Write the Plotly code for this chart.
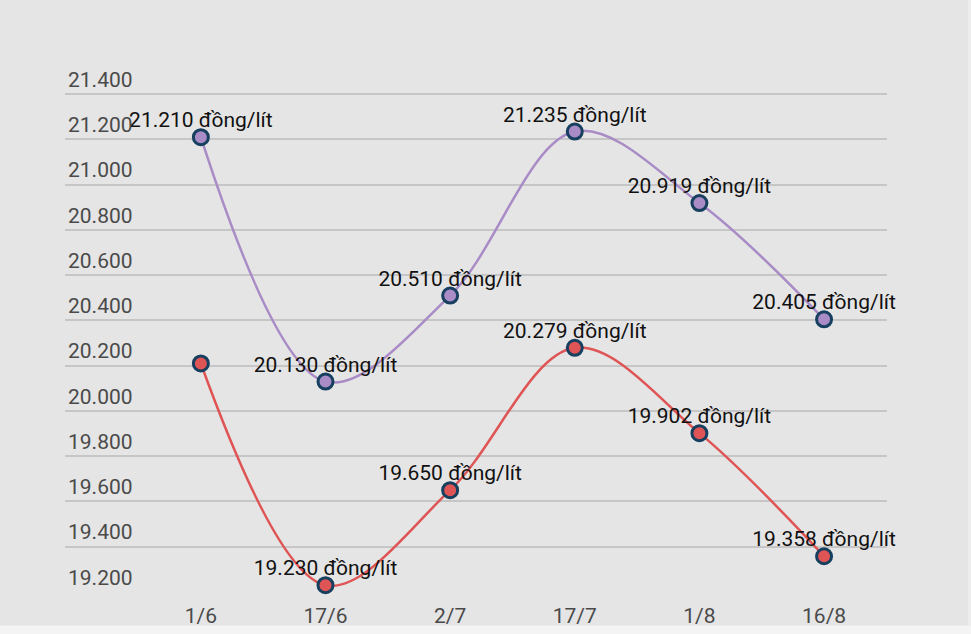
import plotly.graph_objects as go

categories = ["1/6", "17/6", "2/7", "17/7", "1/8", "16/8"]
ron95 = [21210, 20130, 20510, 21235, 20919, 20405]
e5 = [20210, 19230, 19650, 20279, 19902, 19358]
e5_labels = ["", "19.230 đồng/lít", "19.650 đồng/lít", "20.279 đồng/lít", "19.902 đồng/lít", "19.358 đồng/lít"]
ron95_labels = ["21.210 đồng/lít", "20.130 đồng/lít", "20.510 đồng/lít", "21.235 đồng/lít", "20.919 đồng/lít", "20.405 đồng/lít"]
y_ticks = [19200, 19400, 19600, 19800, 20000, 20200, 20400, 20600, 20800, 21000, 21200, 21400]
y_tick_text = ["19.200", "19.400", "19.600", "19.800", "20.000", "20.200", "20.400", "20.600", "20.800", "21.000", "21.200", "21.400"]

BG = "#e5e5e5"
FONT = "Roboto"

xs = list(range(len(categories)))
fig = go.Figure()
for vals, color in [(ron95, "#a98bc6"), (e5, "#df5454")]:
    fig.add_trace(go.Scatter(
        x=xs, y=vals, mode="lines+markers",
        line=dict(color=color, width=2.5, shape="spline", smoothing=1),
        marker=dict(size=15, color=color, line=dict(color="#173f5f", width=3)),
        cliponaxis=False, showlegend=False, hoverinfo="skip",
    ))
for vals, labels in [(ron95, ron95_labels), (e5, e5_labels)]:
    fig.add_trace(go.Scatter(
        x=xs, y=vals, mode="markers+text", text=labels, textposition="top center",
        marker=dict(size=6, opacity=0),
        textfont=dict(family=FONT, size=21, color="#111111"),
        cliponaxis=False, showlegend=False, hoverinfo="skip",
    ))

fig.update_layout(
    width=971, height=634,
    paper_bgcolor=BG, plot_bgcolor=BG,
    margin=dict(l=65, r=84, t=58, b=42),
    font=dict(family=FONT),
    hovermode=False,
    xaxis=dict(
        tickmode="array", tickvals=xs, ticktext=categories,
        range=[-1.09, 5.505], showgrid=False, zeroline=False, showline=False,
        ticks="", tickfont=dict(family=FONT, size=21, color="#4a4a4a"),
        ticklabelstandoff=9, automargin=False,
    ),
    yaxis=dict(
        tickmode="array", tickvals=y_ticks, ticktext=y_tick_text,
        range=[19200, 21560], showgrid=True, gridcolor="#c6c6c6", gridwidth=1.5,
        zeroline=False, showline=False, ticks="",
        ticklabelposition="inside top", automargin=False,
        tickfont=dict(family=FONT, size=21, color="#4a4a4a"),
    ),
    shapes=[
        dict(type="rect", xref="paper", yref="paper", x0=-0.1, x1=1.15, y0=-0.1, y1=-0.0625,
             fillcolor="#f4f4f4", line=dict(width=0), layer="below"),
        dict(type="rect", xref="paper", yref="paper", x0=1.0985, x1=1.15, y0=-0.0625, y1=1.2,
             fillcolor="#ededed", line=dict(width=0), layer="below"),
    ],
)

fig.write_html("out.html", config={"displayModeBar": False},
               post_script="document.body.style.margin='0';document.body.style.background='#e5e5e5';")
